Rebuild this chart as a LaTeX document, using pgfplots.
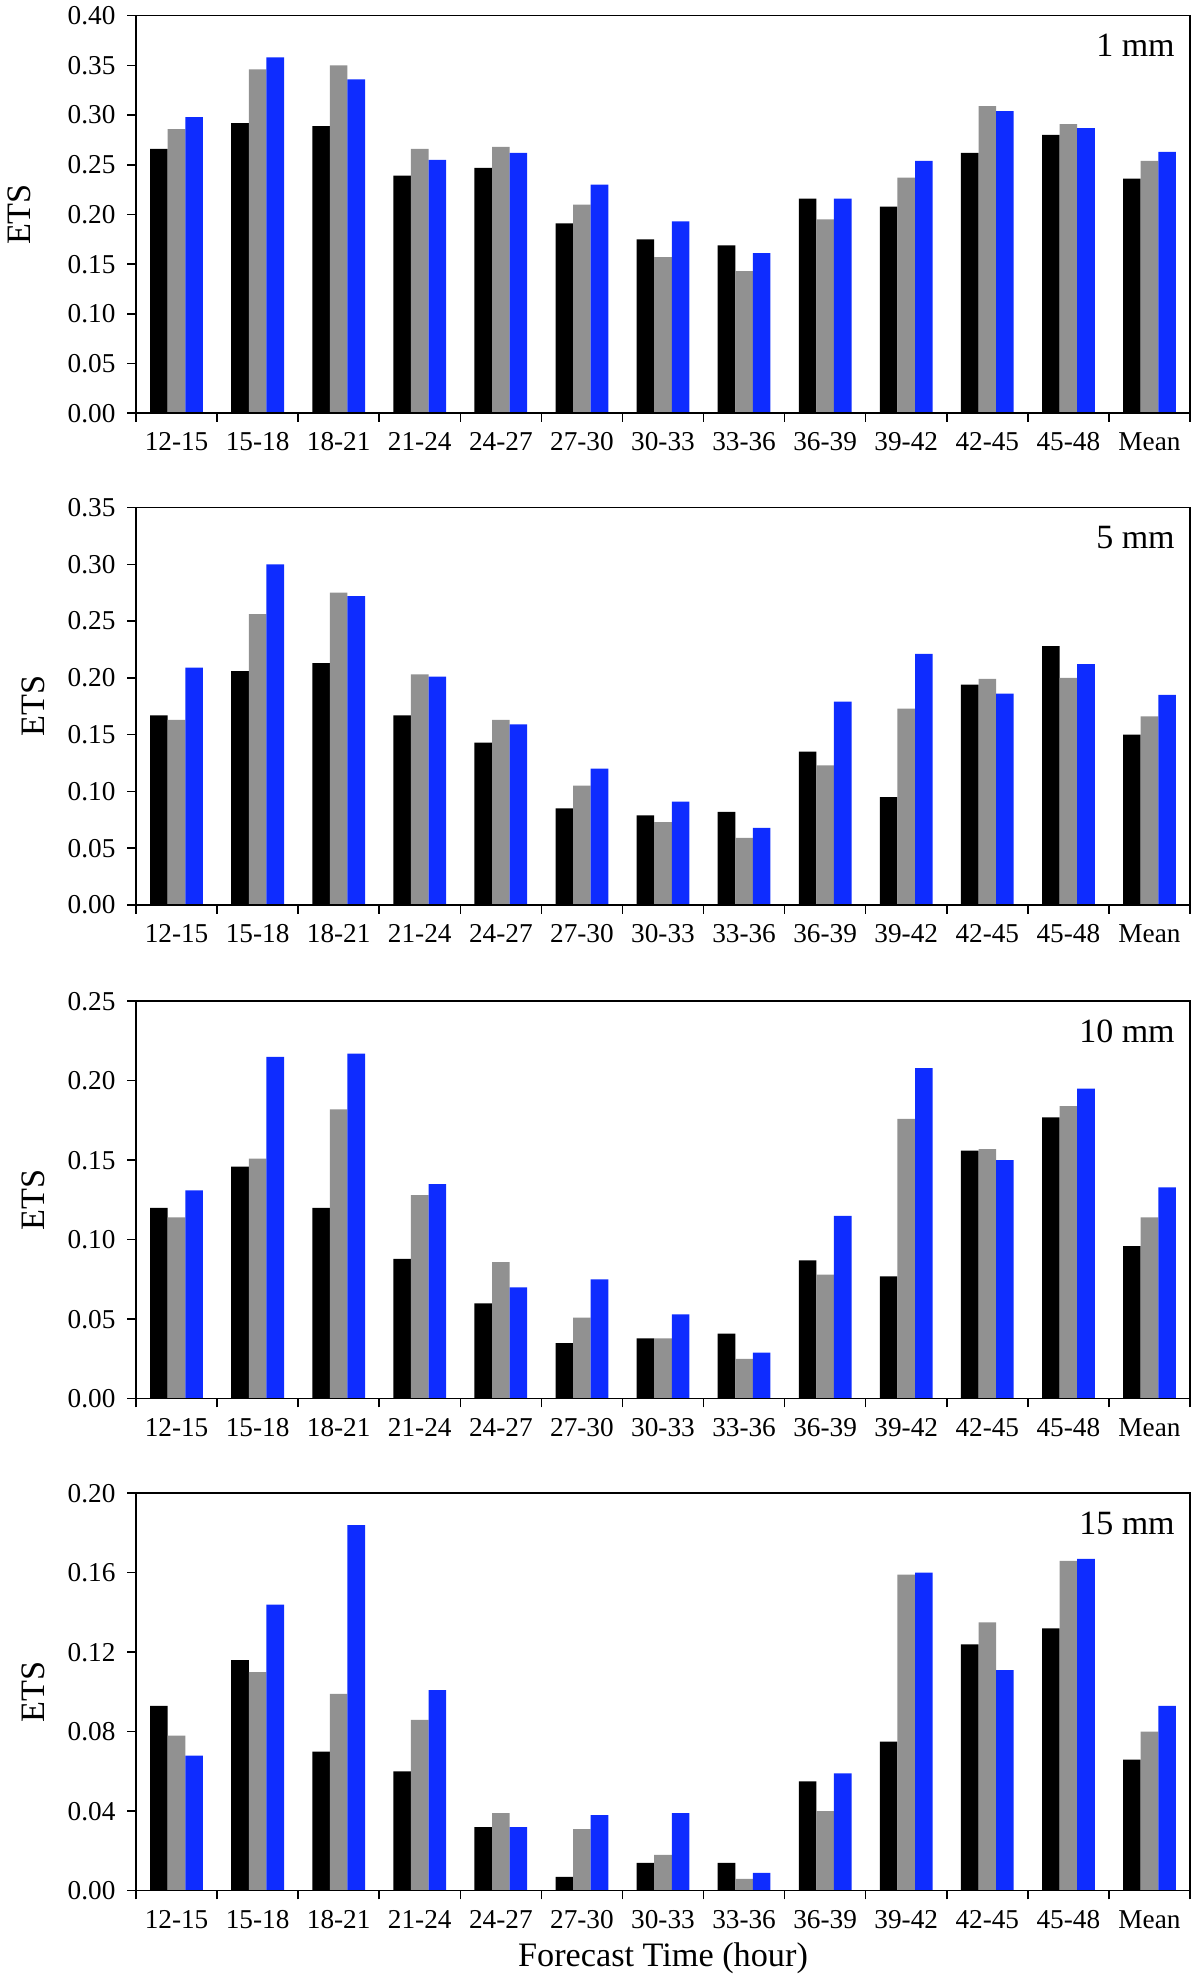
\documentclass[border=0pt]{standalone}
\usepackage{fontspec}
\setmainfont{Liberation Serif}
\usepackage{pgfplots}
\pgfplotsset{compat=1.18}
\definecolor{barGray}{RGB}{145,145,145}
\definecolor{barBlue}{RGB}{14,44,255}

\tikzset{mmlabel/.style={anchor=base east, xshift=-2.6pt, yshift=-16.5pt, font=\fontsize{13.6}{15}\selectfont}}

\pgfplotsset{
  etsaxis/.style={
    scale only axis, width=421.6pt, height=159pt,
    anchor=south west,
    xmin=-0.5, xmax=12.5, ymin=0,
    xtick={-0.5,0.5,1.5,2.5,3.5,4.5,5.5,6.5,7.5,8.5,9.5,10.5,11.5,12.5},
    x tick label as interval=true,
    xticklabels={12-15,15-18,18-21,21-24,24-27,27-30,30-33,33-36,36-39,39-42,42-45,45-48,Mean,{}},
    xtick pos=bottom, ytick pos=left,
    tick align=outside,
    major tick length=3.5pt,
    axis line style={line width=0.6pt},
    every tick/.style={black, line width=0.6pt},
    tick label style={font=\fontsize{10.9}{12}\selectfont},
    yticklabel style={/pgf/number format/.cd, fixed, fixed zerofill, precision=2, /tikz/.cd, xshift=-1.2pt},
    xticklabel style={yshift=-0.8pt},
    /pgf/number format/assume math mode=true,
    ylabel={ETS},
    ylabel style={font=\fontsize{13.7}{15}\selectfont, anchor=center},
    axis on top,
    clip=false,
  },
  bA/.style={ybar, bar width=0.217, bar shift=-0.217, fill=black, draw=none},
  bB/.style={ybar, bar width=0.217, bar shift=0, fill=barGray, draw=none},
  bC/.style={ybar, bar width=0.217, bar shift=0.217, fill=barBlue, draw=none},
}

\begin{document}
\begin{tikzpicture}

% Panel 1: 1 mm
\begin{axis}[etsaxis, at={(54.4pt,624.7pt)}, ymax=0.40,
  ytick={0,0.05,0.10,0.15,0.20,0.25,0.30,0.35,0.40},
  ylabel style={at={(axis description cs:-0.111,0.5)}}]
\addplot[bA] coordinates {(0,0.266) (1,0.292) (2,0.289) (3,0.239) (4,0.247) (5,0.191) (6,0.175) (7,0.169) (8,0.216) (9,0.208) (10,0.262) (11,0.280) (12,0.236)};
\addplot[bB] coordinates {(0,0.286) (1,0.346) (2,0.350) (3,0.266) (4,0.268) (5,0.210) (6,0.157) (7,0.143) (8,0.195) (9,0.237) (10,0.309) (11,0.291) (12,0.254)};
\addplot[bC] coordinates {(0,0.298) (1,0.358) (2,0.336) (3,0.255) (4,0.262) (5,0.230) (6,0.193) (7,0.161) (8,0.216) (9,0.254) (10,0.304) (11,0.287) (12,0.263)};
\node[mmlabel] at (rel axis cs:1,1) {1 mm};
\end{axis}

% Panel 2: 5 mm
\begin{axis}[etsaxis, at={(54.4pt,428pt)}, ymax=0.35,
  ytick={0,0.05,0.10,0.15,0.20,0.25,0.30,0.35},
  ylabel style={at={(axis description cs:-0.097,0.5)}}]
\addplot[bA] coordinates {(0,0.167) (1,0.206) (2,0.213) (3,0.167) (4,0.143) (5,0.085) (6,0.079) (7,0.082) (8,0.135) (9,0.095) (10,0.194) (11,0.228) (12,0.150)};
\addplot[bB] coordinates {(0,0.163) (1,0.256) (2,0.275) (3,0.203) (4,0.163) (5,0.105) (6,0.073) (7,0.059) (8,0.123) (9,0.173) (10,0.199) (11,0.200) (12,0.166)};
\addplot[bC] coordinates {(0,0.209) (1,0.300) (2,0.272) (3,0.201) (4,0.159) (5,0.120) (6,0.091) (7,0.068) (8,0.179) (9,0.221) (10,0.186) (11,0.212) (12,0.185)};
\node[mmlabel] at (rel axis cs:1,1) {5 mm};
\end{axis}

% Panel 3: 10 mm
\begin{axis}[etsaxis, at={(54.4pt,230.5pt)}, ymax=0.25,
  ytick={0,0.05,0.10,0.15,0.20,0.25},
  ylabel style={at={(axis description cs:-0.097,0.5)}}]
\addplot[bA] coordinates {(0,0.120) (1,0.146) (2,0.120) (3,0.088) (4,0.060) (5,0.035) (6,0.038) (7,0.041) (8,0.087) (9,0.077) (10,0.156) (11,0.177) (12,0.096)};
\addplot[bB] coordinates {(0,0.114) (1,0.151) (2,0.182) (3,0.128) (4,0.086) (5,0.051) (6,0.038) (7,0.025) (8,0.078) (9,0.176) (10,0.157) (11,0.184) (12,0.114)};
\addplot[bC] coordinates {(0,0.131) (1,0.215) (2,0.217) (3,0.135) (4,0.070) (5,0.075) (6,0.053) (7,0.029) (8,0.115) (9,0.208) (10,0.150) (11,0.195) (12,0.133)};
\node[mmlabel] at (rel axis cs:1,1) {10 mm};
\end{axis}

% Panel 4: 15 mm
\begin{axis}[etsaxis, at={(54.4pt,33.7pt)}, ymax=0.20,
  ytick={0,0.04,0.08,0.12,0.16,0.20},
  ylabel style={at={(axis description cs:-0.097,0.5)}},
  xlabel={Forecast Time (hour)},
  xlabel style={font=\fontsize{13.7}{15}\selectfont, at={(axis description cs:0.5,0)}, anchor=base, yshift=-30.5pt}]
\addplot[bA] coordinates {(0,0.093) (1,0.116) (2,0.070) (3,0.060) (4,0.032) (5,0.007) (6,0.014) (7,0.014) (8,0.055) (9,0.075) (10,0.124) (11,0.132) (12,0.066)};
\addplot[bB] coordinates {(0,0.078) (1,0.110) (2,0.099) (3,0.086) (4,0.039) (5,0.031) (6,0.018) (7,0.006) (8,0.040) (9,0.159) (10,0.135) (11,0.166) (12,0.080)};
\addplot[bC] coordinates {(0,0.068) (1,0.144) (2,0.184) (3,0.101) (4,0.032) (5,0.038) (6,0.039) (7,0.009) (8,0.059) (9,0.160) (10,0.111) (11,0.167) (12,0.093)};
\node[mmlabel] at (rel axis cs:1,1) {15 mm};
\end{axis}

\pgfresetboundingbox
\path (0,0) rectangle (480pt,790pt);
\end{tikzpicture}
\end{document}
